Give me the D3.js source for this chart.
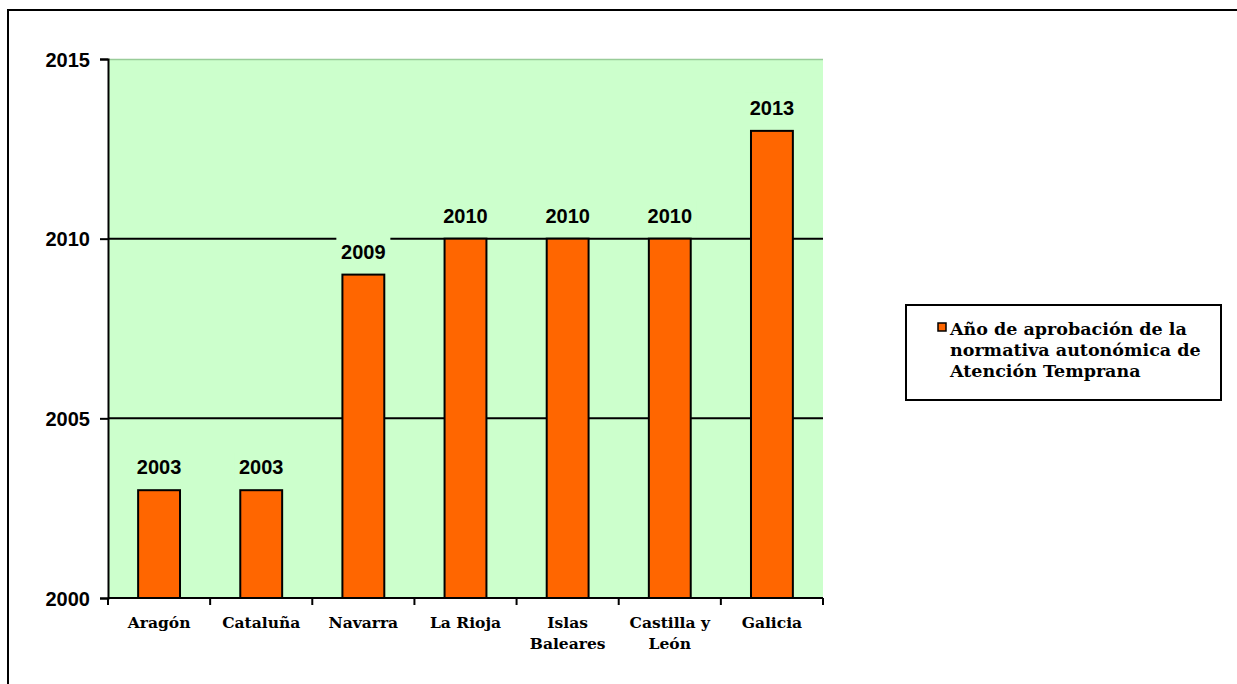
<!DOCTYPE html>
<html>
<head>
<meta charset="utf-8">
<script src="https://cdn.jsdelivr.net/npm/d3@7"></script>
<style>
  body { margin: 0; background: #fff; }
  .ylab { font-family: "Liberation Sans", Arial, sans-serif; font-weight: bold; font-size: 20px; }
  .val { font-family: "Liberation Sans", Arial, sans-serif; font-weight: bold; font-size: 20px; }
  .xlab { font-family: "DejaVu Serif", Georgia, serif; font-weight: bold; font-size: 15.5px; }
  .leg { font-family: "DejaVu Serif", Georgia, serif; font-weight: bold; font-size: 17.5px; }
</style>
</head>
<body>
<div id="graph"></div>
<script>
const regions = ["Aragón", "Cataluña", "Navarra", "La Rioja", "Islas Baleares", "Castilla y León", "Galicia"];
const regionLines = [["Aragón"], ["Cataluña"], ["Navarra"], ["La Rioja"], ["Islas", "Baleares"], ["Castilla y", "León"], ["Galicia"]];
const years = [2003, 2003, 2009, 2010, 2010, 2010, 2013];
const yTicks = [2000, 2005, 2010, 2015];
const seriesName = ["Año de aprobación de la", "normativa autonómica de", "Atención Temprana"];

const svg = d3.select("#graph").append("svg")
  .attr("width", 1237)
  .attr("height", 684);

// outer frame (runs off the right and bottom of the picture)
svg.append("path")
  .attr("d", "M8,700 L8,10 L1250,10")
  .attr("fill", "none")
  .attr("stroke", "#000")
  .attr("stroke-width", 2);

const pLeft = 108, pRight = 823, pTop = 59, pBottom = 598;

const x = d3.scaleBand().domain(regions).range([pLeft, pRight]).paddingInner(0).paddingOuter(0);
const y = d3.scaleLinear().domain([2000, 2015]).range([pBottom, pTop]);

svg.append("rect")
  .attr("x", pLeft).attr("y", pTop)
  .attr("width", pRight - pLeft).attr("height", pBottom - pTop)
  .attr("fill", "#ccffcc");

svg.append("line")
  .attr("x1", pLeft).attr("x2", pRight)
  .attr("y1", pTop + 0.5).attr("y2", pTop + 0.5)
  .attr("stroke", "#9c9").attr("stroke-width", 1.5);

// grid lines
svg.selectAll("line.grid")
  .data([2005, 2010])
  .enter().append("line")
  .attr("class", "grid")
  .attr("x1", pLeft).attr("x2", pRight)
  .attr("y1", d => y(d)).attr("y2", d => y(d))
  .attr("stroke", "#000").attr("stroke-width", 2);

const bw = x.bandwidth() * 0.41;

svg.selectAll("rect.bar")
  .data(years)
  .enter().append("rect")
  .attr("class", "bar")
  .attr("x", (d, i) => x(regions[i]) + x.bandwidth() / 2 - bw / 2)
  .attr("y", d => y(d))
  .attr("width", bw)
  .attr("height", d => y(2000) - y(d))
  .attr("fill", "#ff6600")
  .attr("stroke", "#000")
  .attr("stroke-width", 2);

// value labels with background halo (breaks the grid line like the original)
svg.selectAll("rect.halo")
  .data(years)
  .enter().append("rect")
  .attr("class", "halo")
  .attr("x", (d, i) => x(regions[i]) + x.bandwidth() / 2 - 27)
  .attr("y", d => y(d) - 38)
  .attr("width", 54)
  .attr("height", 30)
  .attr("fill", "#ccffcc");

svg.selectAll("text.val")
  .data(years)
  .enter().append("text")
  .attr("class", "val")
  .attr("text-anchor", "middle")
  .attr("x", (d, i) => x(regions[i]) + x.bandwidth() / 2)
  .attr("y", d => y(d) - 16)
  .text(d => d);

// y axis
const yAxis = svg.append("g")
  .attr("transform", `translate(${pLeft},0)`)
  .call(d3.axisLeft(y).tickValues(yTicks).tickFormat(d3.format("d")).tickSize(8).tickPadding(10));
yAxis.select(".domain").attr("stroke-width", 2);
yAxis.selectAll(".tick line").attr("stroke-width", 2);
yAxis.selectAll(".tick text").attr("class", "ylab").attr("fill", "#000").attr("dy", "0.35em");

// x axis
const xAxis = svg.append("g")
  .attr("transform", `translate(0,${pBottom})`);
xAxis.append("line")
  .attr("x1", pLeft).attr("x2", pRight)
  .attr("stroke", "#000").attr("stroke-width", 2);
xAxis.selectAll("line.xt")
  .data(regions.concat(["end"]))
  .enter().append("line")
  .attr("class", "xt")
  .attr("x1", (d, i) => i < regions.length ? x(d) : pRight)
  .attr("x2", (d, i) => i < regions.length ? x(d) : pRight)
  .attr("y1", 0).attr("y2", 7)
  .attr("stroke", "#000").attr("stroke-width", 2);

xAxis.selectAll("text.xlab")
  .data(regionLines)
  .enter().append("text")
  .attr("class", "xlab")
  .attr("text-anchor", "middle")
  .attr("y", 30)
  .each(function (d, i) {
    const t = d3.select(this);
    d.forEach((line, j) => {
      t.append("tspan")
        .attr("x", x(regions[i]) + x.bandwidth() / 2)
        .attr("dy", j === 0 ? 0 : 21)
        .text(line);
    });
  });

// legend
const leg = svg.append("g");
leg.append("rect")
  .attr("x", 906).attr("y", 305)
  .attr("width", 315).attr("height", 95)
  .attr("fill", "#fff").attr("stroke", "#000").attr("stroke-width", 2);
leg.append("rect")
  .attr("x", 938).attr("y", 323)
  .attr("width", 8).attr("height", 8)
  .attr("fill", "#ff6600").attr("stroke", "#000").attr("stroke-width", 1.5);
leg.selectAll("text")
  .data(seriesName)
  .enter().append("text")
  .attr("class", "leg")
  .attr("x", 950)
  .attr("y", (d, i) => 335 + i * 21)
  .text(d => d);
</script>
</body>
</html>
